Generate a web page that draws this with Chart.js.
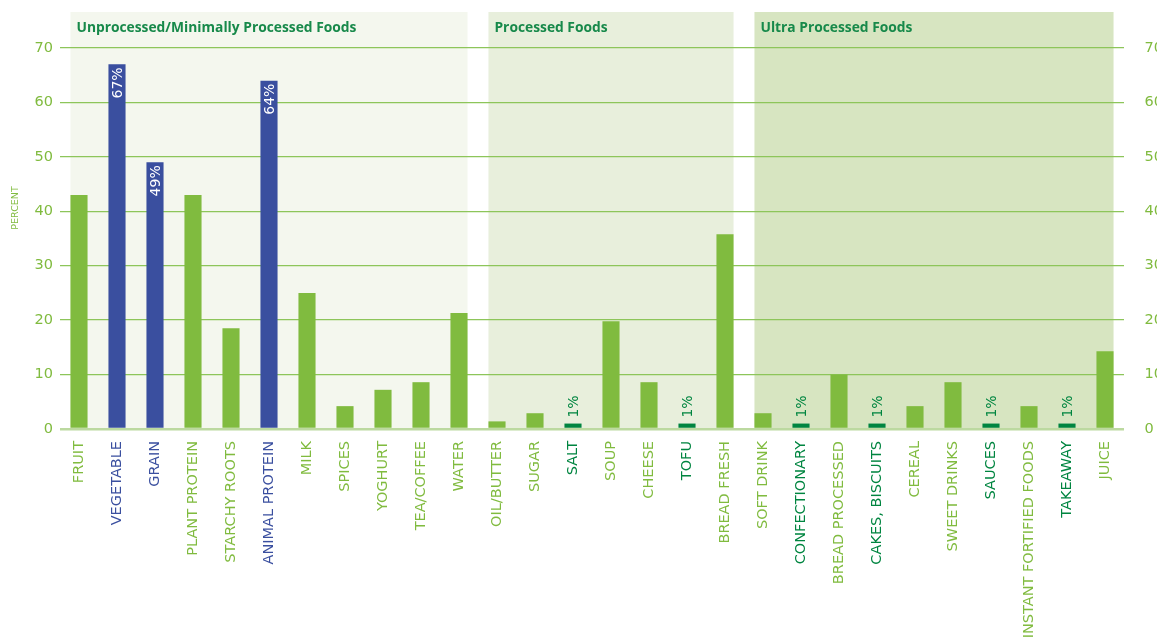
<!DOCTYPE html>
<html>
<head>
<meta charset="utf-8">
<script src="https://cdn.jsdelivr.net/npm/chart.js@4"></script>
<style>
  body { margin: 0; background: #fff; }
  #wrap { width: 1157px; height: 640px; position: relative; }
</style>
</head>
<body>
<div id="wrap"><canvas id="foods"></canvas></div>
<script>
// food groups, in drawing order
var categories = [
    'FRUIT', 'VEGETABLE', 'GRAIN', 'PLANT PROTEIN', 'STARCHY ROOTS', 'ANIMAL PROTEIN',
    'MILK', 'SPICES', 'YOGHURT', 'TEA/COFFEE', 'WATER',
    'OIL/BUTTER', 'SUGAR', 'SALT', 'SOUP', 'CHEESE', 'TOFU', 'BREAD FRESH',
    'SOFT DRINK', 'CONFECTIONARY', 'BREAD PROCESSED', 'CAKES, BISCUITS', 'CEREAL',
    'SWEET DRINKS', 'SAUCES', 'INSTANT FORTIFIED FOODS', 'TAKEAWAY', 'JUICE'
];
var percent = [
    43, 67, 49, 43, 18.5, 64, 25, 4.2, 7.2, 8.6, 21.3,
    1.4, 2.9, 1, 19.8, 8.6, 1, 35.8,
    2.9, 1, 10, 1, 4.2, 8.6, 1, 4.2, 1, 14.3
];
// 'top' = most consumed (blue), 'low' = 1% (dark green), '' = regular
var highlight = [
    '', 'top', 'top', '', '', 'top', '', '', '', '', '',
    '', '', 'low', '', '', 'low', '',
    '', 'low', '', 'low', '', '', 'low', '', 'low', ''
];
var groups = [
    { title: 'Unprocessed/Minimally Processed Foods', from: 0, to: 10, fill: '#f4f7ee' },
    { title: 'Processed Foods', from: 11, to: 17, fill: '#e8efdc' },
    { title: 'Ultra Processed Foods', from: 18, to: 27, fill: '#d7e5c1' }
];
var yTicks = [0, 10, 20, 30, 40, 50, 60, 70];

var colors = {
    green: '#80bb3f',
    blue: '#3a4f9f',
    dark: '#008540',
    grid: '#8dc55a',
    base: '#bcd9a0',
    title: '#17894a'
};

function colorFor(h) {
    if (h == 'top') return colors.blue;
    if (h == 'low') return colors.dark;
    return colors.green;
}

var tickFont = { family: 'DejaVu Sans', size: 14.5 };

// shaded group panels behind the grid + their titles
var panelPlugin = {
    id: 'panels',
    beforeDraw: function(chart) {
        var ctx = chart.ctx;
        var bars = chart.getDatasetMeta(0).data;
        var bottom = chart.chartArea.bottom;
        ctx.save();
        groups.forEach(function(g) {
            var a = bars[g.from], b = bars[g.to];
            var left = a.x - a.width / 2;
            var right = b.x + b.width / 2;
            ctx.fillStyle = g.fill;
            ctx.fillRect(left, 12, right - left, bottom - 12);
            ctx.fillStyle = colors.title;
            ctx.font = 'bold 13.8px "Open Sans"';
            ctx.textBaseline = 'middle';
            ctx.textAlign = 'left';
            ctx.fillText(g.title, left + 6, 28);
        });
        // axis name on the left
        ctx.translate(16, 208);
        ctx.rotate(-Math.PI / 2);
        ctx.fillStyle = colors.green;
        ctx.font = '9.5px "DejaVu Sans"';
        ctx.textAlign = 'center';
        ctx.textBaseline = 'middle';
        ctx.fillText('PERCENT', 0, 0);
        ctx.restore();
    }
};

// rotated percentage labels on highlighted bars
var valuePlugin = {
    id: 'values',
    afterDatasetsDraw: function(chart) {
        var ctx = chart.ctx;
        var bars = chart.getDatasetMeta(0).data;
        ctx.save();
        ctx.font = '14px "DejaVu Sans"';
        ctx.textBaseline = 'middle';
        bars.forEach(function(bar, i) {
            var h = highlight[i];
            if (!h) return;
            var txt = Math.round(percent[i]) + '%';
            ctx.save();
            ctx.translate(bar.x + 1, bar.y);
            ctx.rotate(-Math.PI / 2);
            if (h == 'top') {
                ctx.fillStyle = '#fff';
                ctx.textAlign = 'right';
                ctx.fillText(txt, -3, 0);
            } else {
                ctx.fillStyle = colors.dark;
                ctx.textAlign = 'left';
                ctx.fillText(txt, 6, 0);
            }
            ctx.restore();
        });
        ctx.restore();
    }
};

var ctx = document.getElementById('foods').getContext('2d');
var chart = new Chart(ctx, {
    type: 'bar',
    data: {
        labels: categories,
        datasets: [{
            data: percent,
            backgroundColor: highlight.map(colorFor),
            categoryPercentage: 1,
            barPercentage: 0.45
        }]
    },
    options: {
        responsive: true,
        maintainAspectRatio: false,
        animation: false,
        layout: { padding: { top: 48, left: 0, right: 0, bottom: 0 } },
        plugins: { legend: { display: false }, tooltip: { enabled: false } },
        scales: {
            x: {
                grid: { display: false, drawTicks: false },
                border: { display: false },
                ticks: {
                    autoSkip: false,
                    minRotation: 90,
                    maxRotation: 90,
                    padding: 12,
                    font: { family: 'DejaVu Sans', size: 14.5 },
                    color: function(c) { return colorFor(highlight[c.index]); }
                },
                afterFit: function(s) { s.height = 211; }
            },
            y: {
                min: 0,
                max: 70,
                afterBuildTicks: function(s) { s.ticks = yTicks.map(function(v) { return { value: v }; }); },
                grid: {
                    drawTicks: false,
                    color: function(c) { return c.tick.value === 0 ? colors.base : colors.grid; },
                    lineWidth: function(c) { return c.tick.value === 0 ? 2.5 : 1.3; }
                },
                border: { display: false },
                ticks: { padding: 7, color: colors.green, font: tickFont },
                afterFit: function(s) { s.width = 60; }
            },
            y2: {
                position: 'right',
                min: 0,
                max: 70,
                afterBuildTicks: function(s) { s.ticks = yTicks.map(function(v) { return { value: v }; }); },
                grid: { display: false, drawTicks: false },
                border: { display: false },
                ticks: { padding: 20.5, color: colors.green, font: tickFont },
                afterFit: function(s) { s.width = 33; }
            }
        }
    },
    plugins: [panelPlugin, valuePlugin]
});
</script>
</body>
</html>
